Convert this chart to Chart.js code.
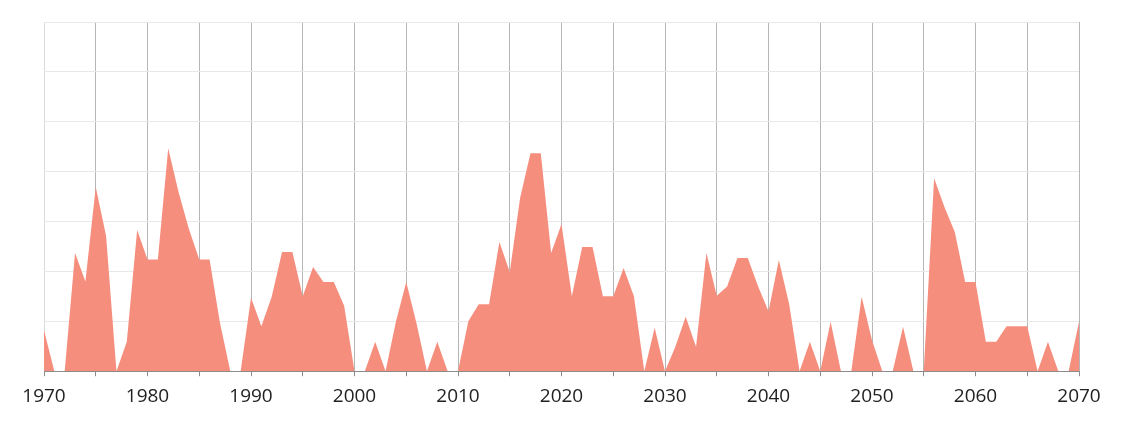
<!DOCTYPE html>
<html>
<head>
<meta charset="utf-8">
<script src="https://cdn.jsdelivr.net/npm/chart.js@4/dist/chart.umd.min.js"></script>
<style>
  html, body { margin: 0; padding: 0; background: #fff; }
  #wrap { width: 1124px; height: 423px; }
</style>
</head>
<body>
<div id="wrap"><canvas id="myChart"></canvas></div>
<script>
'use strict';

// years 1970..2070, one value per year (in gridline units)
let years = [];
for (let y = 1970; y <= 2070; y++) {
    years.push(y);
}

let values1970s = [0.82, 0, 0, 2.37, 1.80, 3.69, 2.71, 0, 0.59, 2.83];
let values1980s = [2.24, 2.24, 4.47, 3.59, 2.85, 2.24, 2.24, 0.97, 0, 0];
let values1990s = [1.47, 0.90, 1.49, 2.39, 2.39, 1.50, 2.09, 1.79, 1.79, 1.31];
let values2000s = [0, 0, 0.59, 0, 0.99, 1.79, 0.95, 0, 0.59, 0];
let values2010s = [0, 1.00, 1.34, 1.34, 2.59, 1.99, 3.47, 4.37, 4.37, 2.37];
let values2020s = [2.95, 1.50, 2.49, 2.49, 1.50, 1.50, 2.07, 1.50, 0, 0.87];
let values2030s = [0, 0.49, 1.09, 0.49, 2.37, 1.51, 1.70, 2.27, 2.27, 1.70];
let values2040s = [1.20, 2.23, 1.34, 0, 0.59, 0, 0.99, 0, 0, 1.49];
let values2050s = [0.62, 0, 0, 0.89, 0, 0, 3.87, 3.29, 2.79, 1.79];
let values2060s = [1.79, 0.59, 0.59, 0.90, 0.90, 0.90, 0, 0.59, 0, 0];
let values2070s = [0.99];

let allValues = [].concat(values1970s, values1980s, values1990s, values2000s,
    values2010s, values2020s, values2030s, values2040s, values2050s,
    values2060s, values2070s);

let points = [];
for (let i = 0; i < years.length; i++) {
    points.push({ x: years[i], y: allValues[i] });
}

var ctx = document.getElementById('myChart').getContext('2d');
var chart = new Chart(ctx, {
    type: 'line',
    data: {
        datasets: [{
            data: points,
            fill: 'origin',
            backgroundColor: '#F68E7E',
            borderColor: '#F68E7E',
            borderWidth: 0,
            pointRadius: 0,
            tension: 0
        }]
    },
    options: {
        responsive: true,
        maintainAspectRatio: false,
        animation: false,
        events: [],
        layout: {
            padding: { left: 44, right: 45, top: 22, bottom: 7 }
        },
        plugins: {
            legend: { display: false },
            tooltip: { enabled: false }
        },
        scales: {
            x: {
                type: 'linear',
                min: 1970,
                max: 2070,
                border: { display: true, color: '#8c8c8c', width: 1 },
                grid: {
                    color: function (c) {
                        return c.tick && c.tick.value === 1970 ? '#d9d9d9' : '#b5b5b5';
                    },
                    tickColor: '#8c8c8c',
                    tickLength: 5
                },
                ticks: {
                    stepSize: 5,
                    autoSkip: false,
                    maxRotation: 0,
                    color: '#222',
                    padding: 8.5,
                    font: { family: '"Open Sans", sans-serif', size: 19 },
                    callback: function (v) {
                        return v % 10 === 0 ? String(v) : '';
                    }
                }
            },
            y: {
                min: 0,
                max: 7,
                border: { display: false },
                grid: { color: '#e8e8e8', drawTicks: false },
                ticks: { display: false, stepSize: 1 }
            }
        }
    }
});
</script>
</body>
</html>
